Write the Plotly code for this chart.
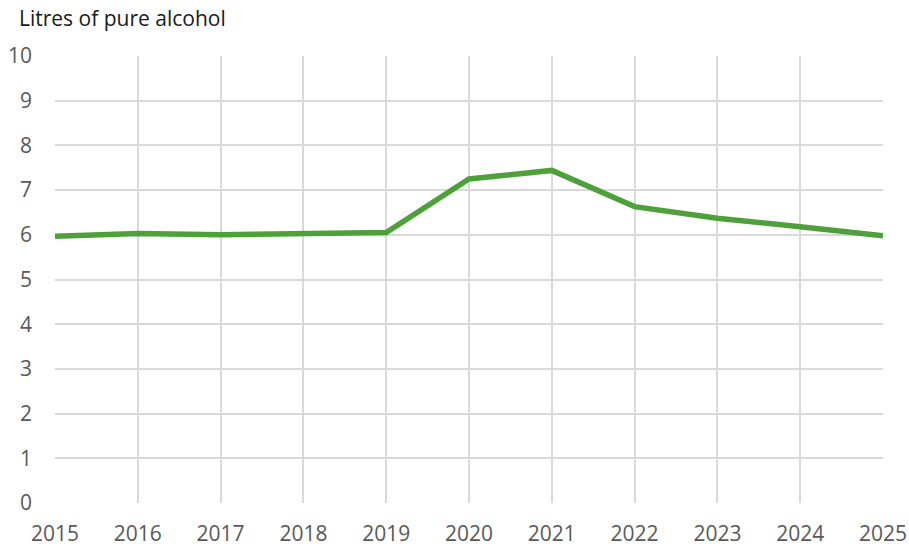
import plotly.graph_objects as go

years = [2015, 2016, 2017, 2018, 2019, 2020, 2021, 2022, 2023, 2024, 2025]
litres = [5.97, 6.03, 6.0, 6.01, 6.05, 7.25, 7.44, 6.63, 6.37, 6.18, 5.98]
y_ticks = list(range(0, 11))

fig = go.Figure()
fig.add_trace(go.Scatter(
    x=years, y=litres, mode="lines",
    line=dict(color="#4ea03a", width=5.5),
    hoverinfo="x+y",
))

grid = "#d9d9d9"
fig.update_layout(
    width=909, height=546,
    margin=dict(l=55, r=26, t=56, b=43),
    plot_bgcolor="white", paper_bgcolor="white",
    font=dict(family="Open Sans", size=21, color="#595959"),
    showlegend=False,
    annotations=[dict(
        text="Litres of pure alcohol", x=0, y=1, xref="paper", yref="paper",
        xanchor="left", yanchor="middle", xshift=-37, yshift=38, showarrow=False,
        borderpad=0,
        font=dict(family="Open Sans", size=21, color="#1a1a1a"),
    )],
)
fig.update_xaxes(
    range=[2015, 2025], tickvals=years, ticktext=[str(y) for y in years],
    showgrid=True, gridcolor=grid, gridwidth=1.5, zeroline=False,
    showline=False, ticks="", ticklabelstandoff=16, automargin=False,
)
fig.update_yaxes(
    range=[0, 10], tickvals=y_ticks,
    showgrid=True, gridcolor=grid, gridwidth=1.5, zeroline=False,
    showline=False, ticks="", ticklabelstandoff=22, automargin=False,
)
fig.write_html(
    "out.html",
    config={"displayModeBar": False},
    post_script="document.body.style.margin='0';document.body.style.overflow='hidden';",
)
